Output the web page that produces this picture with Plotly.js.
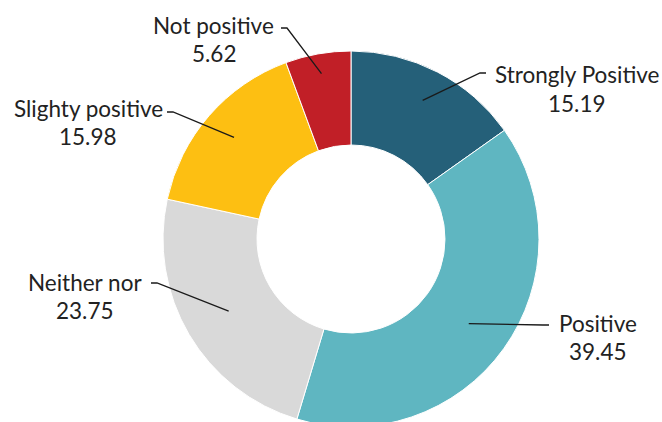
<!DOCTYPE html>
<html>
<head>
<meta charset="utf-8">
<script src="https://cdn.plot.ly/plotly-3.0.1.min.js"></script>
<style>
html,body{margin:0;padding:0;overflow:hidden;background:#fff;}
#chart{width:662px;height:440px;}
</style>
</head>
<body>
<div id="chart"></div>
<script>
// ---- data ----
const categories = ["Strongly Positive", "Positive", "Neither nor", "Slighty positive", "Not positive"];
const values = [15.19, 39.45, 23.75, 15.98, 5.62];
const valueLabels = ["15.19", "39.45", "23.75", "15.98", "5.62"];
const colors = ["#256079", "#5fb6c1", "#d9d9d9", "#fdbf12", "#c11f27"];

// ---- layout constants (pixels) ----
const W = 662, H = 440;
const cx = 351, cy = 239, R = 188;
const labelPos = [[577, 75], [598, 323], [85, 282], [88, 108], [214, 26]];
const elbowPos = [[480, 73], [543, 325], [157, 283], [173, 112], [287, 28]];
const anchorR = [156, 145, 142, 155, 168];
const lineGap = 28;
const textColor = "#222222";
const fontFamily = "Lato, 'Open Sans', sans-serif";
const fontSize = 22.5;

const px = x => x / W;
const py = y => 1 - y / H;

const total = values.reduce((a, b) => a + b, 0);
let cum = 0;
const annotations = [];
const shapes = [];
values.forEach((v, i) => {
  const mid = (cum + v / 2) / total * 2 * Math.PI;
  cum += v;
  const ax = cx + anchorR[i] * Math.sin(mid);
  const ay = cy - anchorR[i] * Math.cos(mid);
  const [ex, ey] = elbowPos[i];
  const dir = labelPos[i][0] > cx ? 1 : -1;
  const hx = ex + dir * 6;
  shapes.push({
    type: "path", xref: "paper", yref: "paper",
    path: `M ${px(ax)},${py(ay)} L ${px(ex)},${py(ey)} L ${px(hx)},${py(ey)}`,
    line: {color: "#1a1a1a", width: 1.3}
  });
  annotations.push({
    xref: "paper", yref: "paper", x: px(labelPos[i][0]), y: py(labelPos[i][1]),
    xanchor: "center", yanchor: "middle", showarrow: false,
    text: categories[i], font: {family: fontFamily, size: fontSize, color: textColor}
  });
  annotations.push({
    xref: "paper", yref: "paper", x: px(labelPos[i][0]), y: py(labelPos[i][1] + lineGap),
    xanchor: "center", yanchor: "middle", showarrow: false,
    text: valueLabels[i], font: {family: fontFamily, size: fontSize, color: textColor}
  });
});

const trace = {
  type: "pie",
  labels: categories,
  values: values,
  sort: false,
  direction: "clockwise",
  rotation: 0,
  hole: 0.5,
  textinfo: "none",
  hoverinfo: "label+value",
  marker: {colors: colors, line: {color: "#ffffff", width: 1}},
  domain: {x: [(cx - R) / W, (cx + R) / W], y: [1 - (cy + R) / H, 1 - (cy - R) / H]},
  showlegend: false
};

Plotly.newPlot("chart", [trace], {
  width: W, height: H,
  margin: {l: 0, r: 0, t: 0, b: 0},
  paper_bgcolor: "#ffffff",
  showlegend: false,
  annotations: annotations,
  shapes: shapes
}, {displayModeBar: false, staticPlot: true});
</script>
</body>
</html>
